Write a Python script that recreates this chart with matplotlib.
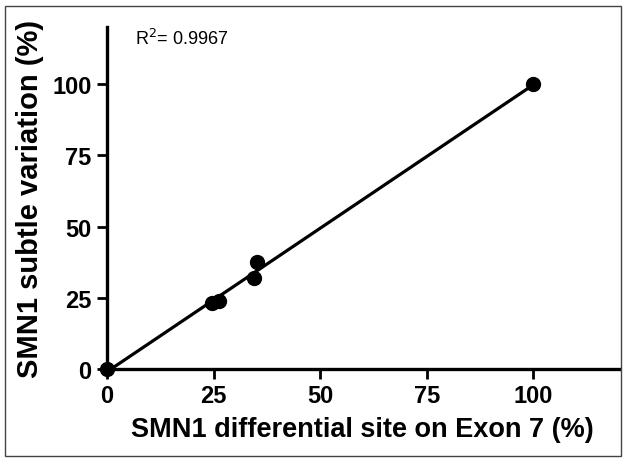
import numpy as np
import matplotlib.pyplot as plt
from matplotlib.patches import Rectangle

# data
x_exon7 = [0, 24.7, 26.3, 34.5, 35.2, 100]
y_subtle = [0, 23.3, 24.0, 31.8, 37.5, 100]
ticks = [0, 25, 50, 75, 100]
r2_text = 'R$^2$= 0.9967'

plt.rcParams['font.family'] = ['Liberation Sans', 'DejaVu Sans']

fig = plt.figure(figsize=(6.24, 4.6), dpi=100)
ax = fig.add_axes([0.1715, 0.1957, 0.82, 0.743])

slope, icpt = np.polyfit(x_exon7, y_subtle, 1)
xl = np.array([0, 100])
ax.plot(xl, slope * xl + icpt, color='black', lw=2.3, zorder=2)
ax.plot(x_exon7, y_subtle, 'o', color='black', ms=10, clip_on=False, zorder=3)

ax.set_xlim(0, 120)
ax.set_ylim(0, 120)
ax.set_xticks(ticks)
ax.set_yticks(ticks)
for s in ['top', 'right']:
    ax.spines[s].set_visible(False)
for s in ['left', 'bottom']:
    ax.spines[s].set_linewidth(2.4)
ax.tick_params(width=2, length=7, labelsize=17, pad=4)
for lab in ax.get_xticklabels() + ax.get_yticklabels():
    lab.set_fontweight('bold')

ax.set_xlabel('SMN1 differential site on Exon 7 (%)', fontsize=19.5, fontweight='bold', labelpad=6)
ax.set_ylabel('SMN1 subtle variation (%)', fontsize=21, fontweight='bold', labelpad=6)

ax.text(6.5, 114, r2_text, fontsize=13)

fig.patches.append(Rectangle((0.008, 0.006), 0.987, 0.979, transform=fig.transFigure,
                             fill=False, edgecolor='#444444', lw=1))

fig.savefig('out.png', dpi=100)
